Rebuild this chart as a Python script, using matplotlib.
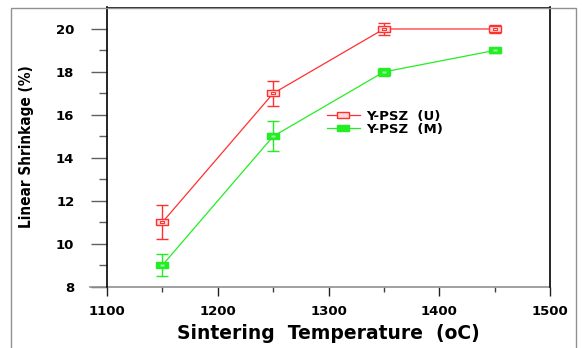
import matplotlib
matplotlib.use("Agg")
import matplotlib.pyplot as plt
from matplotlib.patches import Rectangle
from matplotlib.lines import Line2D

temps = [1150, 1250, 1350, 1450]
u_vals = [11, 17, 20, 20]
u_err = [0.8, 0.6, 0.3, 0.2]
m_vals = [9, 15, 18, 19]
m_err = [0.5, 0.7, 0.2, 0.1]
labels = ["Y-PSZ  (U)", "Y-PSZ  (M)"]
x_ticks = [1100, 1200, 1300, 1400, 1500]
y_ticks = [8, 10, 12, 14, 16, 18, 20]

W, H = 582, 348
fig = plt.figure(figsize=(W / 100, H / 100), dpi=100)
L, R, T, B = 107, 550, 7.5, 286.7
ax = fig.add_axes([L / W, 1 - B / H, (R - L) / W, (B - T) / H])

red = "#ff3030"
green = "#22ee22"
rect = [(-1, -0.55), (1, -0.55), (1, 0.55), (-1, 0.55), (-1, -0.55)]

ax.errorbar(temps, u_vals, yerr=u_err, color=red, lw=0.9, elinewidth=1.0,
            capsize=4.5, capthick=1.0, marker=rect, ms=8, mfc="#ffd8d8",
            mec=red, mew=1.0, zorder=3)
ax.plot(temps, u_vals, ls="none", marker=rect, ms=3, mfc="none", mec=red,
        mew=0.7, zorder=4)
ax.errorbar(temps, m_vals, yerr=m_err, color=green, lw=0.9, elinewidth=1.0,
            capsize=4.5, capthick=1.0, marker=rect, ms=8, mfc=green,
            mec=green, mew=1.0, zorder=3)
ax.plot(temps, m_vals, ls="none", marker=rect, ms=2.5, mfc="#a0f0a0",
        mec="none", zorder=4)

ax.set_xlim(1100, 1500)
ax.set_ylim(8, 21)
ax.set_xticks(x_ticks)
ax.set_xticks([1150, 1250, 1350, 1450], minor=True)
ax.set_yticks(y_ticks)
ax.set_yticks([9, 11, 13, 15, 17, 19], minor=True)

tick_font = dict(family="DejaVu Sans", weight="bold", size=9.5)
ax.set_xticklabels([str(v) for v in x_ticks], **tick_font)
ax.set_yticklabels([str(v) for v in y_ticks], **tick_font)

ax.tick_params(axis="y", which="major", direction="out", length=11.5,
               width=1.0, color="#606060", pad=12)
ax.tick_params(axis="y", which="minor", direction="out", length=5.8,
               width=1.0, color="#606060")
ax.tick_params(axis="x", which="major", direction="out", length=6.5,
               width=1.0, color="#202020", pad=7)
ax.tick_params(axis="x", which="minor", direction="out", length=3.6,
               width=1.0, color="#404040")

for s in ["left", "right", "top"]:
    ax.spines[s].set_color("black")
    ax.spines[s].set_linewidth(1.2)
ax.spines["bottom"].set_visible(False)
ax.plot([-(L - 90) / (R - L), 1], [0, 0], transform=ax.transAxes,
        color="#909090", lw=1.2, clip_on=False, zorder=2)

ax.set_xlabel("Sintering  Temperature  (oC)", family="DejaVu Sans",
              weight="bold", size=13.5, labelpad=4)
ax.set_ylabel("Linear Shrinkage (%)", family="DejaVu Sans",
              fontstretch="condensed", weight="bold", size=11, labelpad=16)

handles = [
    Line2D([], [], color=red, lw=0.9, marker=rect, ms=8, mfc="#ffd8d8", mec=red),
    Line2D([], [], color=green, lw=0.9, marker=rect, ms=8, mfc=green, mec=green),
]
leg = ax.legend(handles, labels, loc="upper left",
                bbox_to_anchor=((327 - L) / (R - L), 1 - (110 - T) / (B - T)),
                frameon=False, prop=dict(family="DejaVu Sans", weight="bold", size=9.5),
                handlelength=2.5, handletextpad=0.45, labelspacing=0.0,
                borderaxespad=0, borderpad=0)

fig.add_artist(Rectangle((11 / W, -0.1), (576 - 11) / W, 1.1 - 7.5 / H,
                         transform=fig.transFigure, fill=False,
                         edgecolor="#909090", lw=1.0))

fig.savefig("out.png", dpi=100)
